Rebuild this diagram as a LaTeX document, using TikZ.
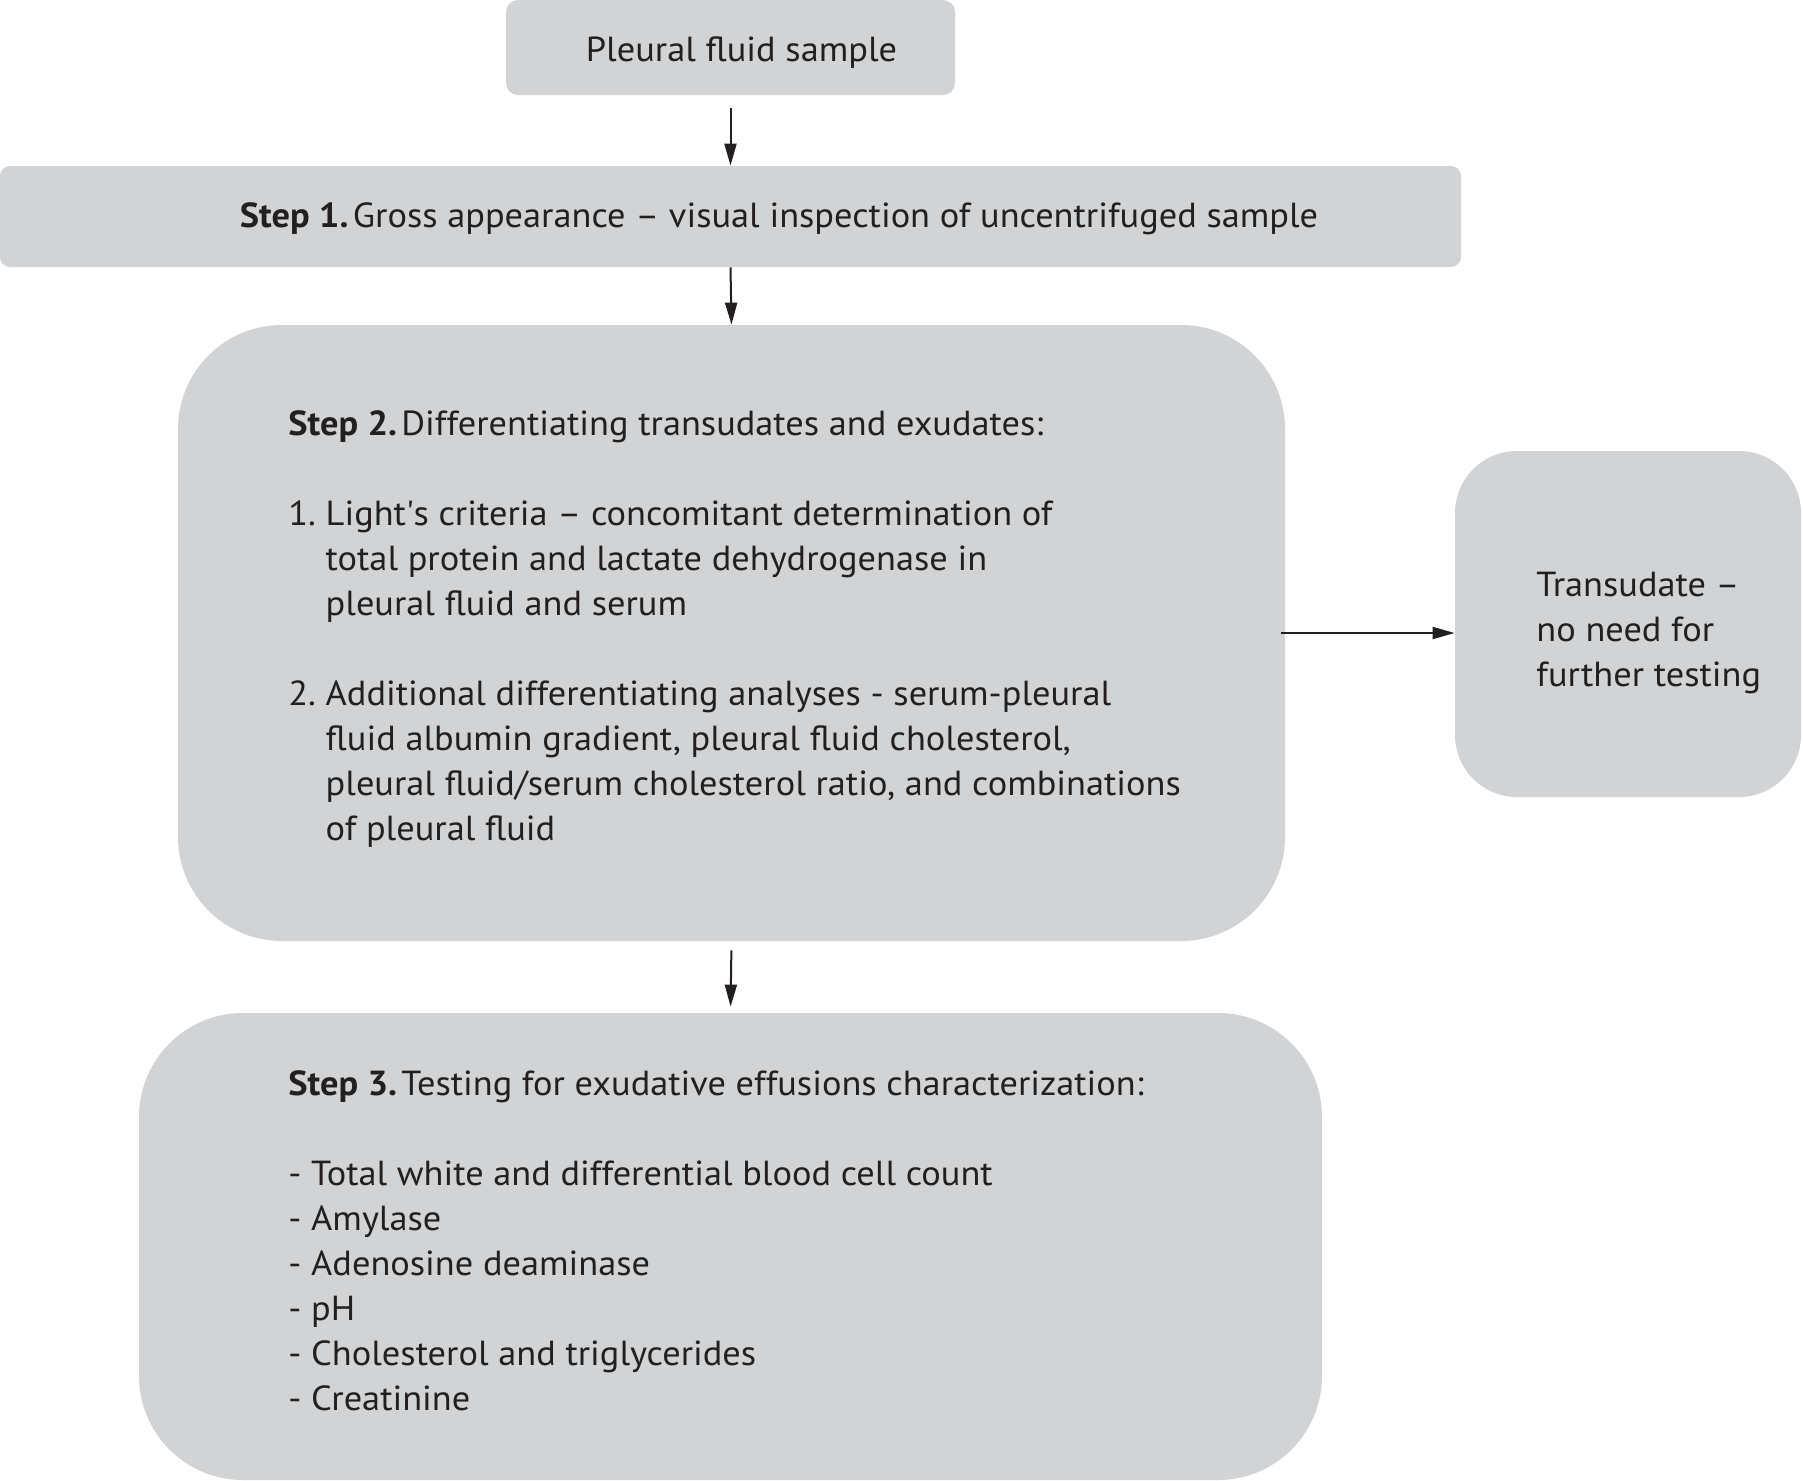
\documentclass[tikz,border=0pt]{standalone}
\usepackage{fontspec}
\setmainfont{PT Sans}[FakeStretch=1.045]
\usetikzlibrary{arrows.meta}
\definecolor{boxgray}{RGB}{209,211,212}
\definecolor{ink}{RGB}{35,31,32}
\newcommand{\diagfont}{\fontsize{17.4}{22.5}\selectfont}
\newcommand{\lines}[1]{\begin{tabular}[t]{@{}l@{}}#1\end{tabular}}
\newcommand{\steplabel}[1]{\textbf{#1}\hspace{2.2pt}}
\begin{document}
\begin{tikzpicture}[x=0.5pt,y=-0.5pt,
  box/.style={fill=boxgray, draw=none, inner sep=0pt, text=ink, font=\diagfont},
  txt/.style={anchor=base west, inner sep=0pt, text=ink, font=\diagfont},
  arr/.style={draw=ink, line width=1pt, -{Triangle[length=11pt,width=6pt]}}
]
\useasboundingbox (0,0) rectangle (1803,1480);
% boxes
\node[box, rounded corners=6pt, minimum width=224.5pt, minimum height=47.5pt,
      text height=13.5pt, text depth=0pt] (b0) at (730.5,47.5)
      {\hspace*{11pt}Pleural fluid sample};
\node[box, rounded corners=5pt, minimum width=730.5pt, minimum height=50.5pt,
      text height=10.5pt, text depth=0pt] (b1) at (730.5,216.5)
      {\hspace*{48.5pt}\steplabel{Step 1.}Gross appearance – visual inspection of uncentrifuged sample};
\node[box, rounded corners=52pt, minimum width=553.5pt, minimum height=308pt] (b2) at (731.5,633) {};
\node[box, rounded corners=31pt, minimum width=173pt, minimum height=173pt] (b4) at (1628,624) {};
\node[box, rounded corners=52pt, minimum width=591.5pt, minimum height=233.5pt] (b3) at (730.5,1246.5) {};
% texts
\node[txt] (t2) at (288,435) {\lines{%
  \steplabel{Step 2.}Differentiating transudates and exudates:\\
  \\
  1.\ \lines{Light\textquotesingle s criteria – concomitant determination of\\
  total protein and lactate dehydrogenase in\\
  pleural fluid and serum}\\
  \\
  2.\ \lines{Additional differentiating analyses - serum-pleural\\
  fluid albumin gradient, pleural fluid cholesterol,\\
  pleural fluid/serum cholesterol ratio, and combinations\\
  of pleural fluid}}};
\node[txt] (t4) at (1536,596) {\lines{Transudate –\\no need for\\further testing}};
\node[txt] (t3) at (288,1095) {\lines{%
  \steplabel{Step 3.}Testing for exudative effusions characterization:\\
  \\
  - Total white and differential blood cell count\\
  - Amylase\\
  - Adenosine deaminase\\
  - pH\\
  - Cholesterol and triglycerides\\
  - Creatinine}};
% arrows
\draw[arr, shorten <=6.5pt] (b0.south) -- (b1.north);
\draw[arr] (b1.south) -- (b2.north);
\draw[arr, shorten <=4.5pt, shorten >=3pt] (b2.south) -- (b3.north);
\draw[arr, shorten <=-2pt] (b2.east) -- (b2.east -| b4.west);
\end{tikzpicture}
\end{document}
